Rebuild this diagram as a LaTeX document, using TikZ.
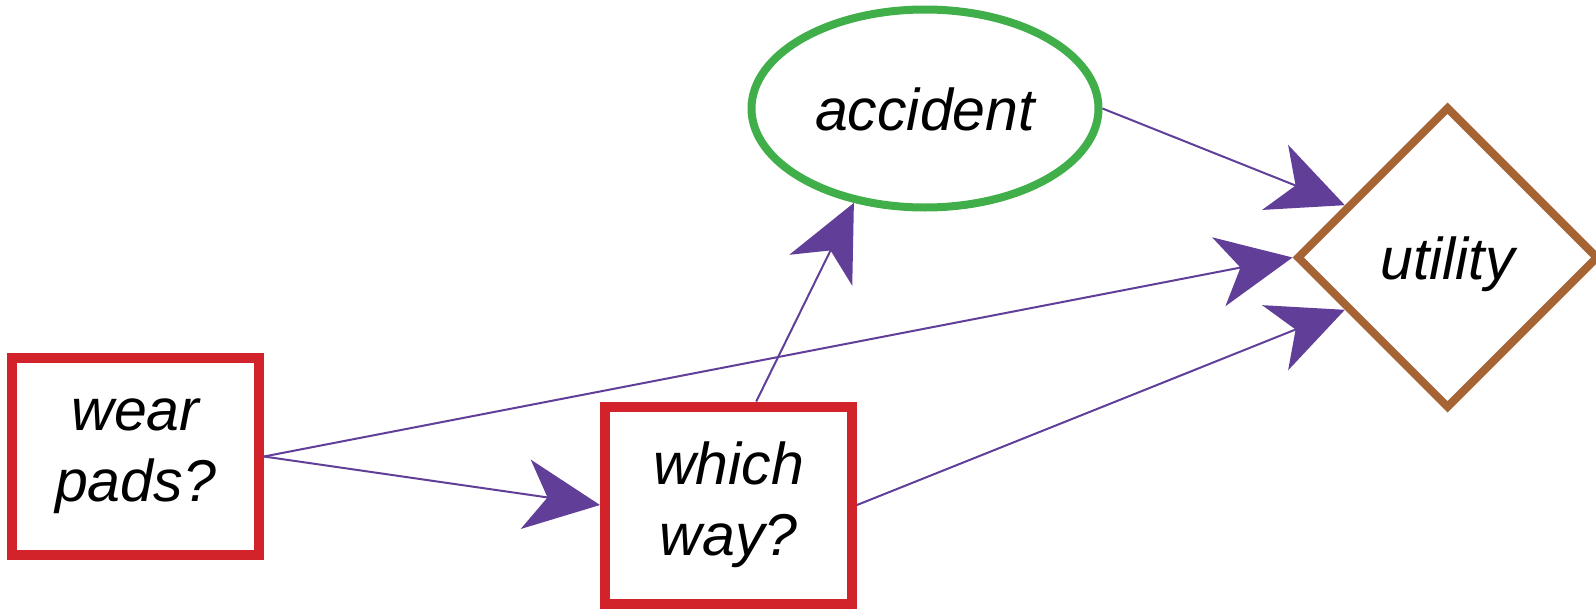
\documentclass[tikz,border=0pt]{standalone}
\usepackage{fontspec}
\setmainfont{Liberation Sans}
\usepackage{tikz}
\usetikzlibrary{positioning,shapes.geometric,arrows.meta}

\definecolor{decred}{RGB}{210,35,42}
\definecolor{chgreen}{RGB}{64,174,73}
\definecolor{utbrown}{RGB}{166,100,52}
\definecolor{arcpurple}{RGB}{97,63,153}

\tikzset{
  txt/.style={font=\fontsize{59pt}{71pt}\selectfont\itshape, align=center},
  decision/.style={txt, rectangle, draw=decred, line width=10pt,
    minimum width=247pt, minimum height=197pt},
  chance/.style={txt, ellipse, draw=chgreen, line width=8pt, inner sep=0pt,
    minimum width=347pt, minimum height=198pt},
  valnode/.style={txt, diamond, draw=utbrown, line width=8pt, inner sep=0pt,
    minimum width=302pt, minimum height=302pt},
  link/.style={draw=arcpurple, line width=2pt,
    -{Stealth[length=75pt,width=70pt,inset=22pt,color=arcpurple]}}
}

\begin{document}
\begin{tikzpicture}[x=1pt,y=-1pt]

  \useasboundingbox (0,0) rectangle (1596,608);

  % Define nodes
  \node[decision] (wp) at (135.5,456.5) {wear\\pads?};
  \node[decision, right=336pt of wp, yshift=-48.5pt] (ww) {which\\way?};
  \node[chance, above=190pt of ww, xshift=196.5pt, text height=43pt, text depth=0pt] (acc) {accident};
  \node[valnode, right=190pt of acc, yshift=-149pt, text height=43pt, text depth=0pt] (ut) {utility};

  % Connect the nodes
  \draw[link] (wp.east) -- (ww.west);
  \draw[link] (wp.east) -- (ut.west);
  \draw[link] (ww.75) -- (acc.233);
  \draw[link] (acc.east) -- (ut.153);
  \draw[link] (ww.east) -- (ut.207);

\end{tikzpicture}
\end{document}
